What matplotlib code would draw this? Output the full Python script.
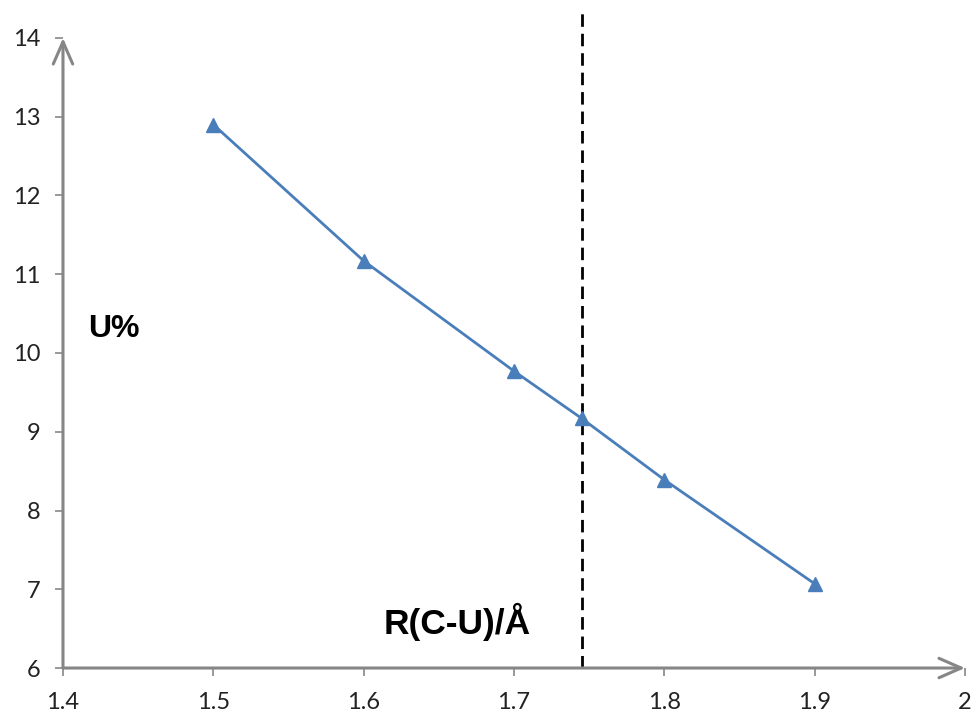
import numpy as np
import matplotlib.pyplot as plt

# --- data ---
r_cu = [1.5, 1.6, 1.7, 1.745, 1.8, 1.9]
u_pct = [12.9, 11.17, 9.77, 9.17, 8.39, 7.07]
r_mark = 1.745

x_ticks = [1.4, 1.5, 1.6, 1.7, 1.8, 1.9, 2.0]
x_labels = ['1.4', '1.5', '1.6', '1.7', '1.8', '1.9', '2']
y_ticks = [6, 7, 8, 9, 10, 11, 12, 13, 14]

axis_grey = '#868686'
line_blue = '#4a7ebb'

fig = plt.figure(figsize=(9.72, 7.15), dpi=100)
ax = fig.add_axes([0.0648, 0.0657, 0.9280, 0.8812])

ax.plot(r_cu, u_pct, color=line_blue, lw=2, marker='^', ms=10, zorder=3)
ax.plot([r_mark, r_mark], [6, 14.33], color='black', lw=2, ls=(0, (4.5, 2.5)),
        clip_on=False, zorder=2)

ax.set_xlim(1.4, 2.0)
ax.set_ylim(6, 14)
ax.set_xticks(x_ticks)
ax.set_xticklabels(x_labels)
ax.set_yticks(y_ticks)

for s in ax.spines.values():
    s.set_visible(False)

# axes drawn as open arrows
arrow = dict(arrowstyle='->,head_length=1.6,head_width=0.7', color=axis_grey, lw=2.2,
             shrinkA=0, shrinkB=0)
ax.annotate('', xy=(0, 1), xytext=(0, 0), xycoords='axes fraction', arrowprops=arrow)
ax.annotate('', xy=(1, 0), xytext=(0, 0), xycoords='axes fraction', arrowprops=arrow)

ax.tick_params(axis='both', direction='out', length=6, width=1.2, color=axis_grey,
               labelsize=17, labelcolor='#222222')
ax.tick_params(axis='y', pad=10)
ax.tick_params(axis='x', pad=11)
for lab in ax.get_xticklabels() + ax.get_yticklabels():
    lab.set_family('Lato')

ax.text(1.4167, 10.3, 'U%', fontsize=23, fontweight='bold', family='Liberation Sans',
        va='center', ha='left')
ax.text(1.6133, 6.58, 'R(C-U)/Å', fontsize=25.5, fontweight='bold', family='Liberation Sans',
        va='center', ha='left')

fig.savefig('out.png', dpi=100)
